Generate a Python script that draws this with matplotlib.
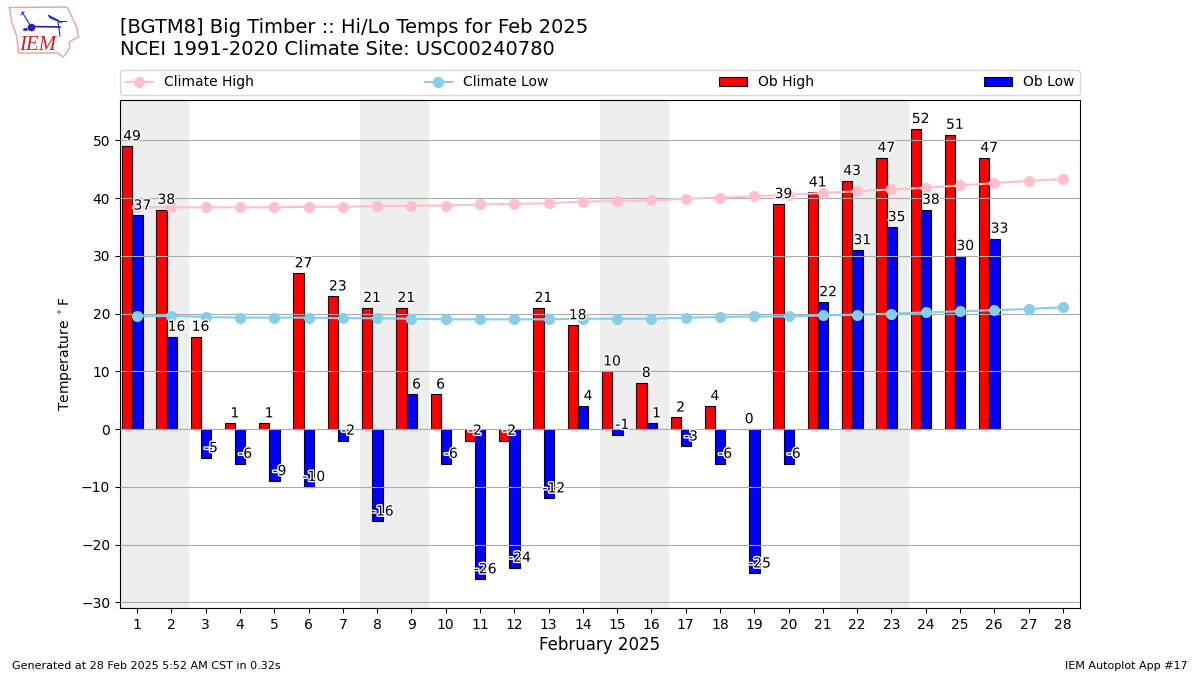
import numpy as np
import matplotlib
matplotlib.use('Agg')
import matplotlib.pyplot as plt
import matplotlib.patheffects as PathEffects

days = list(range(1, 29))
ob_days = list(range(1, 27))
ob_high = [49, 38, 16, 1, 1, 27, 23, 21, 21, 6, -2, -2, 21, 18, 10, 8, 2, 4, 0, 39, 41, 43, 47, 52, 51, 47]
ob_low = [37, 16, -5, -6, -9, -10, -2, -16, 6, -6, -26, -24, -12, 4, -1, 1, -3, -6, -25, -6, 22, 31, 35, 38, 30, 33]
climate_high = [38.4, 38.4, 38.4, 38.4, 38.4, 38.5, 38.5, 38.6, 38.7, 38.7, 38.9, 39.0, 39.1, 39.4,
                39.5, 39.6, 39.9, 40.1, 40.3, 40.6, 40.9, 41.2, 41.5, 41.8, 42.2, 42.6, 43.0, 43.3]
climate_low = [19.5, 19.6, 19.4, 19.3, 19.3, 19.3, 19.2, 19.2, 19.1, 19.0, 19.0, 19.0, 19.0, 19.1,
               19.1, 19.1, 19.3, 19.4, 19.5, 19.5, 19.7, 19.8, 20.0, 20.2, 20.4, 20.6, 20.8, 21.1]
weekends = [(0.5, 2.5), (7.5, 9.5), (14.5, 16.5), (21.5, 23.5)]

W, H = 1200, 675
fig = plt.figure(figsize=(12, 6.75), dpi=100)
ax = fig.add_axes([120 / W, 1 - 608 / H, 960 / W, 508 / H])

for start, end in weekends:
    ax.axvspan(start, end, color='#eeeeee', lw=0, zorder=1)

ob_x = np.array(ob_days)
ax.bar(ob_x - 0.29, ob_high, width=0.3, color='r', edgecolor='k', lw=0.8, zorder=2, label='Ob High')
ax.bar(ob_x + 0.01, ob_low, width=0.3, color='b', edgecolor='k', lw=0.8, zorder=2, label='Ob Low')
# grid sits on top of the bars, under the climate lines
ax.grid(axis='y', color='#aaaaaa', lw=0.8, zorder=3)
ax.set_axisbelow(False)
for line in ax.get_ygridlines():
    line.set_zorder(3)
ax.plot(days, climate_high, color='pink', marker='o', lw=1.5, ms=7, zorder=4, label='Climate High')
ax.plot(days, climate_low, color='skyblue', marker='o', lw=1.5, ms=7, zorder=4, label='Climate Low')

for x, val in zip(ob_x, ob_high):
    t = ax.text(x - 0.15, val + 0.5, str(val), ha='center', va='bottom', fontsize=10, zorder=5)
    t.set_path_effects([PathEffects.withStroke(linewidth=2, foreground='white')])
for x, val in zip(ob_x, ob_low):
    t = ax.text(x + 0.15, val + 0.5, str(val), ha='center', va='bottom', fontsize=10, zorder=5)
    t.set_path_effects([PathEffects.withStroke(linewidth=2, foreground='white')])

ax.set_xlim(0.5, 28.5)
ax.set_ylim(-31, 57)
ax.set_xticks(days)
ax.set_yticks(range(-30, 51, 10))
ax.tick_params(labelsize=10)
ax.set_xlabel('February 2025', fontsize=12, labelpad=3)
ax.set_ylabel(r'Temperature $^\circ$F', fontsize=10)

handles, labels = ax.get_legend_handles_labels()
order = [labels.index(n) for n in ['Climate High', 'Climate Low', 'Ob High', 'Ob Low']]
ax.legend([handles[i] for i in order], [labels[i] for i in order], ncol=4, mode='expand',
          loc='lower left', bbox_to_anchor=(0, 1.01, 1, 0.05), borderaxespad=0, fontsize=10)

fig.text(120 / W, 1 - 18 / H, '[BGTM8] Big Timber :: Hi/Lo Temps for Feb 2025\nNCEI 1991-2020 Climate Site: USC00240780',
         fontsize=14, va='top', ha='left')
fig.text(12 / W, 1 - 666 / H, 'Generated at 28 Feb 2025 5:52 AM CST in 0.32s', fontsize=8, va='center')
fig.text(1188 / W, 1 - 666 / H, 'IEM Autoplot App #17', fontsize=8, va='center', ha='right')

# logo, drawn in pixel coords
logo = fig.add_axes([0, 0, 1, 1], facecolor='none')
logo.set_xlim(0, W)
logo.set_ylim(H, 0)
logo.axis('off')
outline_x = [9.5, 67, 71, 77, 78.5, 69, 70, 65, 63, 58, 18.5, 17, 12, 9.5]
outline_y = [7.5, 7, 15, 28, 37, 42, 47, 55, 57, 53, 53, 37, 23, 7.5]
logo.plot(outline_x, outline_y, color='#e8a0a0', lw=1)
logo.plot([31, 60], [26.5, 27], color='#2020d0', lw=1.2)
logo.plot([22, 31], [12, 26.5], color='#2020d0', lw=0.8)
logo.plot([21, 24], [15, 12], color='#2020d0', lw=0.7)
logo.plot([58, 60], [22, 36], color='#2020d0', lw=0.8)
logo.fill([48, 50, 62, 58], [15, 18, 23, 20], color='#2020d0', lw=0.5)
logo.plot([58, 66], [21, 21], color='#2020d0', lw=0.7)
logo.plot([31], [26.5], 'o', color='#2020d0', ms=4.5)
logo.plot([24, 26], [29, 29], '.', color='#2020d0', ms=2)
logo.text(37.5, 45, 'IEM', color='#d02020', fontsize=15, family='Liberation Serif', style='italic',
          ha='center', va='center')

fig.savefig('out.png', dpi=100)
